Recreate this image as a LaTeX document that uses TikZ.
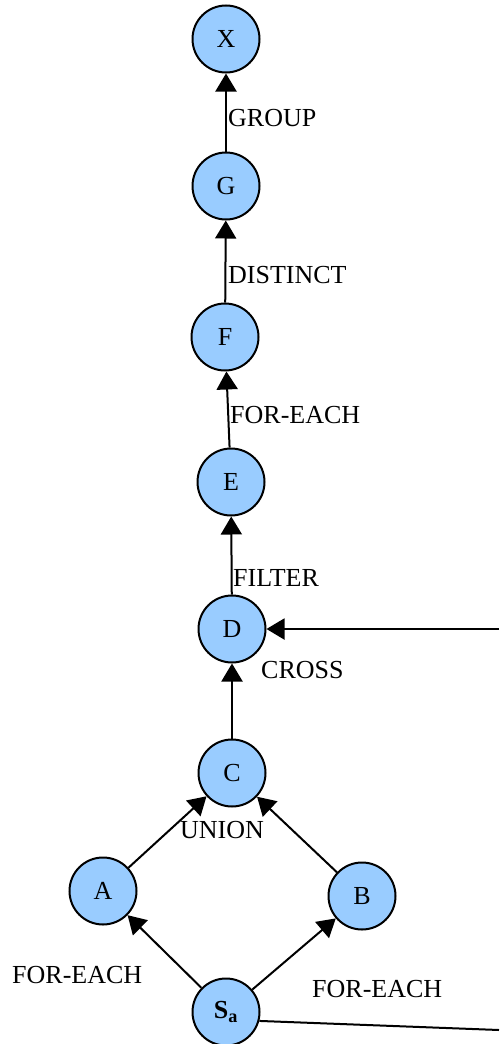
\documentclass[tikz,border=0pt]{standalone}
\usepackage{fontspec}
\setmainfont{Liberation Serif}
\usetikzlibrary{arrows.meta}
\definecolor{nodeblue}{RGB}{153,204,255}
\begin{document}
\begin{tikzpicture}[x=1pt,y=-1pt,
  vert/.style={circle,draw=black,line width=2pt,fill=nodeblue,minimum size=67pt,inner sep=0pt,font=\fontsize{26}{30}\selectfont},
  lbl/.style={anchor=west,inner sep=0pt,font=\fontsize{26}{30}\selectfont},
  edge/.style={line width=2pt,-{Triangle[width=21pt,length=18pt]}},
  plain/.style={line width=2pt}]
\useasboundingbox (0,0) rectangle (499,1044);
\node[vert] (X) at (226,39) {X};
\node[vert] (G) at (226,186) {G};
\node[vert] (F) at (225,337) {F};
\node[vert] (E) at (231,482) {E};
\node[vert] (D) at (232,629) {D};
\node[vert] (C) at (232,773) {C};
\node[vert] (A) at (103,891) {A};
\node[vert] (B) at (362,896) {B};
\node[vert] (S) at (226,1012) {\textbf{S\textsubscript{a}}};
\coordinate (inD) at (499,629);
\coordinate (outS) at (499,1030);
\draw[edge] (G) -- (X);
\draw[edge] (F) -- (G);
\draw[edge] (E) -- (F);
\draw[edge] (D) -- (E);
\draw[edge] (C) -- (D);
\draw[edge] (A) -- (C);
\draw[edge] (B) -- (C);
\draw[edge] (S) -- (A);
\draw[edge] (S) -- (B);
\draw[edge] (inD) -- (D);
\draw[plain] (S.-15) -- (outS);
\node[lbl] (lg) at (228,118) {GROUP};
\node[lbl] (ld) at (228,275) {DISTINCT};
\node[lbl] (lf) at (230,415) {FOR-EACH};
\node[lbl] (lfi) at (233,578) {FILTER};
\node[lbl] (lc) at (261,670) {CROSS};
\node[lbl] (lu) at (180,830) {UNION};
\node[lbl] (lfa) at (12,975) {FOR-EACH};
\node[lbl] (lfb) at (312,989) {FOR-EACH};
\end{tikzpicture}
\end{document}
